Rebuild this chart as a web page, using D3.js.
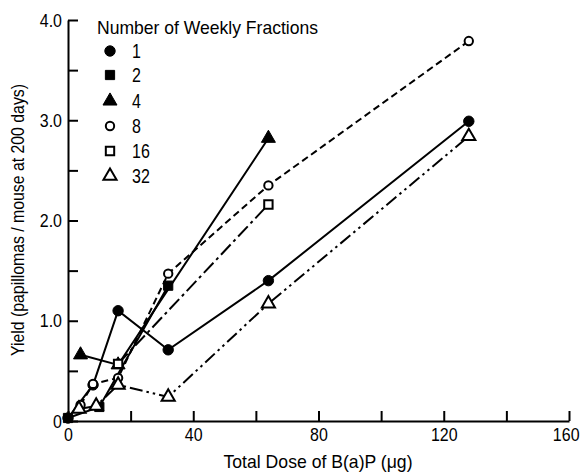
<!DOCTYPE html>
<html>
<head>
<meta charset="utf-8">
<script src="https://cdn.jsdelivr.net/npm/d3@7"></script>
<style>
  html, body { margin: 0; padding: 0; background: #fff; }
  svg { display: block; font-family: "Liberation Sans", Arial, sans-serif; }
</style>
</head>
<body>
<svg id="chart" width="584" height="476"></svg>
<script>
// ---- data ----
const seriesNames = ["1", "2", "4", "8", "16", "32"];
const dose1 = [0, 8, 16, 32, 64, 128];
const yield1 = [0.03, 0.36, 1.10, 0.71, 1.40, 2.99];
const dose2 = [0, 10, 32];
const yield2 = [0.03, 0.14, 1.35];
const dose4 = [4, 16, 64];
const yield4 = [0.66, 0.56, 2.82];
const dose8 = [4, 8, 16, 32, 64, 128];
const yield8 = [0.16, 0.37, 0.43, 1.47, 2.35, 3.79];
const dose16 = [16, 64];
const yield16 = [0.57, 2.16];
const dose32 = [3.5, 9, 16, 32, 64, 128];
const yield32 = [0.12, 0.15, 0.36, 0.24, 1.17, 2.84];

const xTickValues = [0, 20, 40, 60, 80, 100, 120, 140, 160];
const xTickLabels = ["0", "", "40", "", "80", "", "120", "", "160"];
const yTickValues = [0, 0.5, 1, 1.5, 2, 2.5, 3, 3.5, 4];
const yTickLabels = ["0", "", "1.0", "", "2.0", "", "3.0", "", "4.0"];

const legendTitle = "Number of Weekly Fractions";
const xTitle = "Total Dose of B(a)P (\u03bcg)";
const yTitle = "Yield (papillomas / mouse at 200 days)";

// ---- styles per series ----
const styles = [
  { sym: d3.symbolCircle,   fill: "#000", size: 85, dash: null },
  { sym: d3.symbolSquare,   fill: "#000", size: 85, dash: null },
  { sym: d3.symbolTriangle, fill: "#000", size: 85, dash: null },
  { sym: d3.symbolCircle,   fill: "#fff", size: 55, dash: "7,4" },
  { sym: d3.symbolSquare,   fill: "#fff", size: 70, dash: "14,4,3,4" },
  { sym: d3.symbolTriangle, fill: "#fff", size: 75, dash: "13,4,2.5,4,2.5,4" }
];

const series = [
  { name: seriesNames[0], x: dose1, y: yield1 },
  { name: seriesNames[1], x: dose2, y: yield2 },
  { name: seriesNames[2], x: dose4, y: yield4 },
  { name: seriesNames[3], x: dose8, y: yield8 },
  { name: seriesNames[4], x: dose16, y: yield16 },
  { name: seriesNames[5], x: dose32, y: yield32 }
];

const svg = d3.select("#chart");
const x = d3.scaleLinear().domain([0, 160]).range([68, 569]);
const y = d3.scaleLinear().domain([0, 4]).range([421, 20]);

// condense a text selection horizontally (old narrow typeface look)
function condense(sel, factor) {
  sel.each(function () {
    const w = this.getComputedTextLength();
    if (w > 0) d3.select(this).attr("textLength", w * factor).attr("lengthAdjust", "spacingAndGlyphs");
  });
}

// axes
const xAxis = d3.axisBottom(x).tickValues(xTickValues).tickSize(-10).tickSizeOuter(0).tickPadding(5)
  .tickFormat((d, i) => xTickLabels[i]);
const yAxis = d3.axisLeft(y).tickValues(yTickValues).tickSize(-10).tickSizeOuter(0).tickPadding(6)
  .tickFormat((d, i) => yTickLabels[i]);

const gx = svg.append("g").attr("transform", `translate(0,${y(0)})`).call(xAxis);
const gy = svg.append("g").attr("transform", `translate(${x(0)},0)`).call(yAxis);
[gx, gy].forEach(g => {
  g.selectAll("path.domain").attr("stroke", "#000").attr("stroke-width", 2);
  g.selectAll(".tick line").attr("stroke", "#000").attr("stroke-width", 2);
  g.selectAll(".tick text").attr("fill", "#000").style("font-size", "19px")
    .style("font-family", "'Liberation Sans', Arial, sans-serif");
  condense(g.selectAll(".tick text"), 0.84);
});
gx.selectAll(".tick text").attr("dy", "0.8em");
// keep the last x label inside the page edge
gx.selectAll(".tick text").filter(d => d === 160).attr("text-anchor", "end").attr("x", 10);

// axis titles
svg.append("text").attr("x", 318).attr("y", 468).attr("text-anchor", "middle")
  .style("font-size", "19px").attr("textLength", 189).attr("lengthAdjust", "spacingAndGlyphs").text(xTitle);
svg.append("text").attr("transform", "translate(24,220) rotate(-90)").attr("text-anchor", "middle")
  .style("font-size", "18px").attr("textLength", 272).attr("lengthAdjust", "spacingAndGlyphs").text(yTitle);

// lines
const line = d3.line().x(d => x(d[0])).y(d => y(d[1]));
series.forEach((s, i) => {
  const pts = s.x.map((v, j) => [v, s.y[j]]);
  svg.append("path").datum(pts).attr("d", line)
    .attr("fill", "none").attr("stroke", "#000").attr("stroke-width", 2)
    .attr("stroke-dasharray", styles[i].dash);
});

// markers (filled first, open on top)
series.forEach((s, i) => {
  const st = styles[i];
  const pts = s.x.map((v, j) => [v, s.y[j]]);
  svg.append("g").selectAll("path").data(pts).join("path")
    .attr("transform", d => `translate(${x(d[0])},${y(d[1])})`)
    .attr("d", d3.symbol().type(st.sym).size(st.size))
    .attr("fill", st.fill).attr("stroke", "#000").attr("stroke-width", st.fill === "#fff" ? 2 : 1);
});

// legend
const lg = svg.append("g");
lg.append("text").attr("x", 97).attr("y", 34).style("font-size", "19px")
  .attr("textLength", 221).attr("lengthAdjust", "spacingAndGlyphs").text(legendTitle);
const rowY = [51, 75, 101, 126, 151, 176];
series.forEach((s, i) => {
  const st = styles[i];
  lg.append("path").attr("transform", `translate(110,${rowY[i]})`)
    .attr("d", d3.symbol().type(st.sym).size(st.size))
    .attr("fill", st.fill).attr("stroke", "#000").attr("stroke-width", st.fill === "#fff" ? 2 : 1);
  const t = lg.append("text").attr("x", 132).attr("y", rowY[i]).attr("dy", "0.36em")
    .style("font-size", "20px").text(s.name);
  condense(t, 0.8);
});
</script>
</body>
</html>
